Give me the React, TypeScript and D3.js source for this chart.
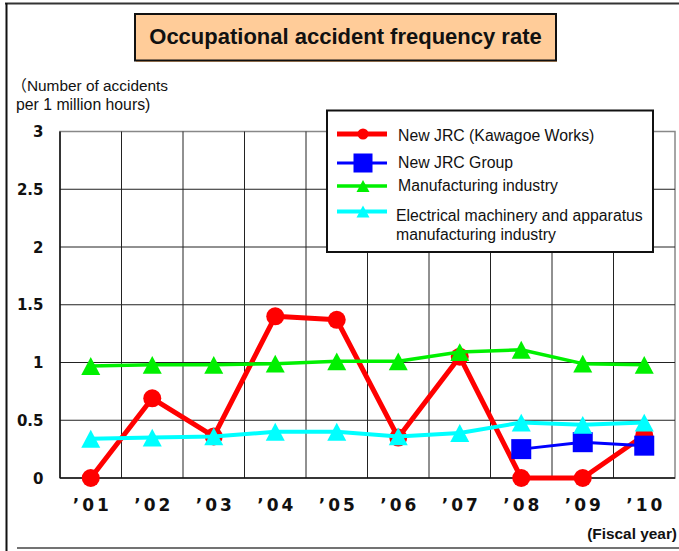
import React from "react";
import * as d3 from "d3";

const years = ["01", "02", "03", "04", "05", "06", "07", "08", "09", "10"];
const kawagoe: (number | null)[] = [0, 0.69, 0.36, 1.4, 1.37, 0.35, 1.05, 0, 0, 0.37];
const jrcGroup: (number | null)[] = [null, null, null, null, null, null, null, 0.25, 0.31, 0.28];
const manufacturing: (number | null)[] = [0.97, 0.98, 0.98, 0.99, 1.01, 1.01, 1.09, 1.11, 0.99, 0.98];
const electrical: (number | null)[] = [0.34, 0.35, 0.36, 0.4, 0.4, 0.36, 0.39, 0.48, 0.46, 0.48];
const yTicks = [0, 0.5, 1, 1.5, 2, 2.5, 3];

const W = 679;
const H = 551;
const plot = { left: 60, right: 675, top: 131.5, bottom: 478 };
const FONT = "'Liberation Sans', Arial, 'Noto Sans CJK JP', sans-serif";
const TICKFONT = "'DejaVu Sans', sans-serif";

type Marker = "circle" | "square" | "triangle";
const series = [
  { name: "New JRC (Kawagoe Works)", values: kawagoe, color: "#FF0000", width: 5, marker: "circle" as Marker },
  { name: "New JRC Group", values: jrcGroup, color: "#0000FF", width: 3, marker: "square" as Marker },
  { name: "Manufacturing industry", values: manufacturing, color: "#00F000", width: 3.5, marker: "triangle" as Marker },
  { name: "Electrical machinery and apparatus|manufacturing industry", values: electrical, color: "#00FFFF", width: 4, marker: "triangle" as Marker },
];

function markerEl(m: Marker, x: number, y: number, color: string, size: number, key?: string) {
  if (m === "circle") return <circle key={key} cx={x} cy={y} r={size / 2} fill={color} />;
  if (m === "square")
    return <rect key={key} x={x - size / 2} y={y - size / 2} width={size} height={size} fill={color} />;
  const hw = size / 2;
  const hh = size * 0.47;
  return (
    <path
      key={key}
      d={`M${x},${y - hh}L${x + hw},${y + hh}L${x - hw},${y + hh}Z`}
      fill={color}
    />
  );
}

export default function App() {
  const x = d3.scalePoint<string>().domain(years).range([plot.left, plot.right]).padding(0.5);
  const band = d3.scaleBand<string>().domain(years).range([plot.left, plot.right]);
  const y = d3.scaleLinear().domain([0, 3]).range([plot.bottom, plot.top]);

  const line = d3
    .line<number | null>()
    .defined((d) => d !== null)
    .x((_, i) => x(years[i]) as number)
    .y((d) => y(d as number));

  const legendItems = [
    { yLine: 134, yText: [140.7] },
    { yLine: 163, yText: [168.3] },
    { yLine: 186, yText: [190.7] },
    { yLine: 211.5, yText: [221.3, 239.5] },
  ];
  const markerSizes = [18, 20, 19, 19];
  const legendMarkerSizes = [11, 19, 13, 13];

  return (
    <svg
      width={W}
      height={H}
      style={{ position: "absolute", left: 0, top: 0, background: "#fff" }}
      fontFamily={FONT}
    >
      {/* outer frame */}
      <line x1={5} x2={W} y1={3.5} y2={3.5} stroke="#333" strokeWidth={2} />
      <line x1={6.5} x2={6.5} y1={3} y2={H} stroke="#111" strokeWidth={2} />
      <line x1={17} x2={W} y1={548} y2={548} stroke="#444" strokeWidth={1.5} />

      {/* title */}
      <rect x={135} y={14} width={421} height={46.5} fill="#FFCC99" stroke="#111" strokeWidth={2} />
      <line x1={136} x2={557} y1={61.5} y2={61.5} stroke="#8a6a4a" strokeWidth={1} />
      <text x={345.5} y={43.5} textAnchor="middle" fontSize={22} fontWeight="bold" fill="#111">
        Occupational accident frequency rate
      </text>

      {/* y axis label */}
      <text x={11.5} y={90.5} fontSize={15.4} fill="#111">（Number of accidents</text>
      <text x={16} y={109.5} fontSize={15.8} fill="#111">per 1 million hours)</text>

      {/* grid */}
      <rect
        x={plot.left}
        y={plot.top}
        width={plot.right - plot.left}
        height={plot.bottom - plot.top}
        fill="none"
        stroke="#888"
        strokeWidth={1.5}
      />
      {yTicks.slice(1, -1).map((t) => (
        <line key={"h" + t} x1={plot.left} x2={plot.right} y1={y(t)} y2={y(t)} stroke="#222" strokeWidth={1} />
      ))}
      {years.slice(1).map((yr) => (
        <line
          key={"v" + yr}
          x1={band(yr) as number}
          x2={band(yr) as number}
          y1={plot.top}
          y2={plot.bottom}
          stroke="#222"
          strokeWidth={1}
        />
      ))}
      <line x1={plot.left} x2={plot.left} y1={plot.top} y2={plot.bottom} stroke="#111" strokeWidth={1.5} />
      <line x1={plot.left} x2={plot.right} y1={plot.bottom} y2={plot.bottom} stroke="#111" strokeWidth={1.5} />

      {/* y tick labels */}
      {yTicks.map((t) => (
        <text
          key={"yt" + t}
          x={43.5}
          y={y(t) + 5.5}
          textAnchor="end"
          fontFamily={TICKFONT}
          fontSize={15}
          fontWeight="bold"
          fill="#111"
        >
          {String(t)}
        </text>
      ))}

      {/* x tick labels */}
      {years.map((yr) => (
        <text
          key={"xt" + yr}
          x={(x(yr) as number) + 1.5}
          y={511}
          textAnchor="middle"
          fontFamily={TICKFONT}
          fontSize={17}
          fontWeight="bold"
          letterSpacing={3}
          fill="#111"
        >
          {"\u2019" + yr}
        </text>
      ))}
      <text x={677} y={538.5} textAnchor="end" fontSize={15.4} fontWeight="bold" fill="#111">
        (Fiscal year)
      </text>

      {/* series */}
      {series.map((s, si) => (
        <g key={"s" + si}>
          <path d={line(s.values) || ""} fill="none" stroke={s.color} strokeWidth={s.width} strokeLinejoin="round" />
          {s.values.map((v, i) =>
            v === null ? null : markerEl(s.marker, x(years[i]) as number, y(v), s.color, markerSizes[si], "m" + i)
          )}
        </g>
      ))}

      {/* legend */}
      <rect x={327} y={110.5} width={326} height={141.5} fill="#fff" stroke="#111" strokeWidth={2} />
      {series.map((s, si) => {
        const it = legendItems[si];
        const lines = s.name.split("|");
        return (
          <g key={"l" + si}>
            <line x1={337} x2={387} y1={it.yLine} y2={it.yLine} stroke={s.color} strokeWidth={s.width} />
            {markerEl(s.marker, 363, it.yLine, s.color, legendMarkerSizes[si])}
            {lines.map((ln, li) => (
              <text key={li} x={si === 3 ? 396 : 398} y={it.yText[li]} fontSize={15.8} fill="#111">
                {ln}
              </text>
            ))}
          </g>
        );
      })}
    </svg>
  );
}
